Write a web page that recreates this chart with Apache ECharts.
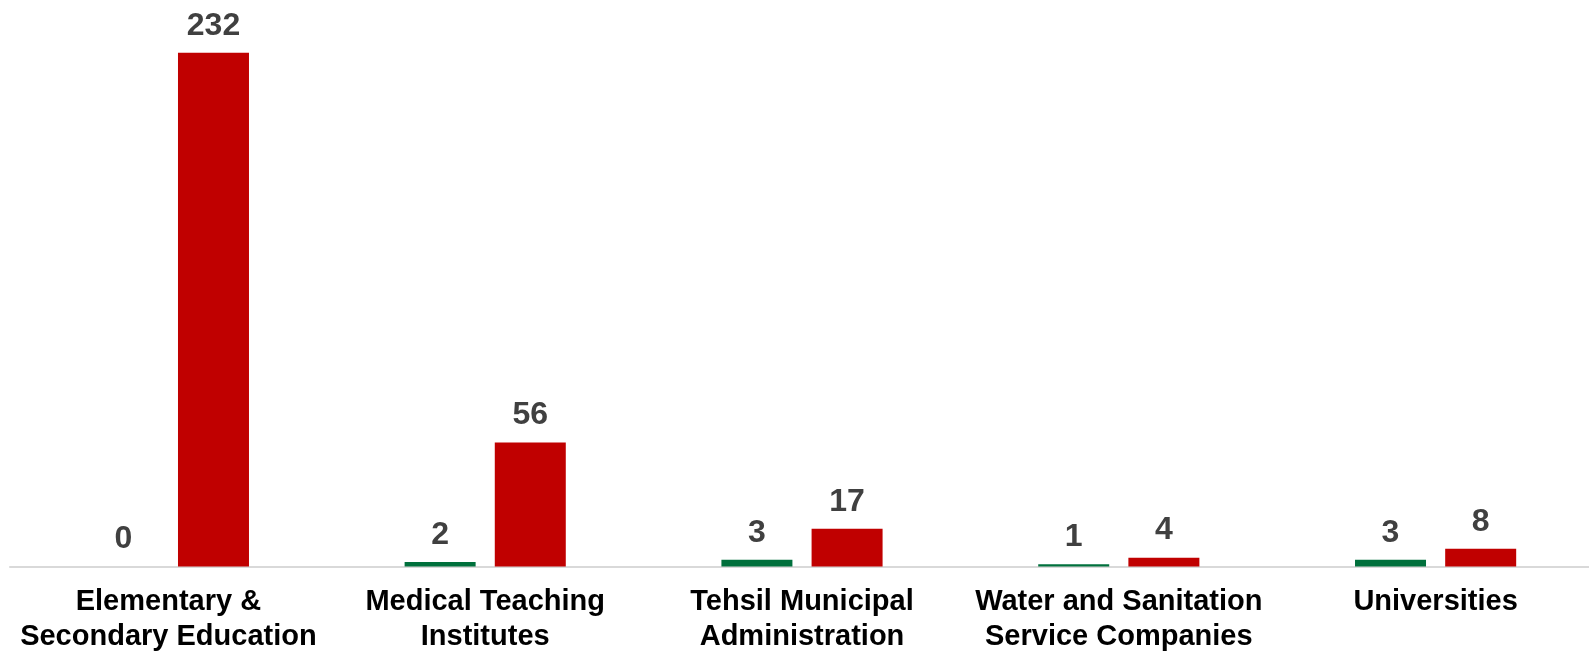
<!DOCTYPE html>
<html><head><meta charset="utf-8">
<script src="https://cdn.jsdelivr.net/npm/echarts@6/dist/echarts.min.js"></script>
<style>html,body{margin:0;padding:0;background:#fff}#c{width:1589px;height:651px}</style>
</head><body><div id="c"></div>
<script>
var categories = ["Elementary &\nSecondary Education", "Medical Teaching\nInstitutes", "Tehsil Municipal\nAdministration", "Water and Sanitation\nService Companies", "Universities"];
var greenValues = [0, 2, 3, 1, 3];
var redValues = [232, 56, 17, 4, 8];
var FONT = "'Liberation Sans', Arial, sans-serif";
var chart = echarts.init(document.getElementById('c'));
var lbl = {show: true, position: 'top', distance: 11, color: '#404040', fontSize: 32, fontWeight: 'bold', fontFamily: FONT};
chart.setOption({
  animation: false,
  grid: {left: 10, right: -5, top: 35, bottom: 84.5, containLabel: false, outerBoundsMode: 'none'},
  xAxis: {
    type: 'category', data: categories,
    axisLine: {lineStyle: {color: '#d9d9d9', width: 2}},
    axisTick: {show: false},
    axisLabel: {color: '#000', fontSize: 29, fontWeight: 'bold', fontFamily: FONT, lineHeight: 35, margin: 18, interval: 0}
  },
  yAxis: {type: 'value', min: 0, max: 240, show: false, splitLine: {show: false}},
  series: [
    {type: 'bar', data: greenValues, barWidth: 71, barGap: '27%', itemStyle: {color: '#00703C'}, label: lbl},
    {type: 'bar', data: redValues, barWidth: 71, barGap: '27%', itemStyle: {color: '#C00000'}, label: lbl}
  ]
});
</script></body></html>
